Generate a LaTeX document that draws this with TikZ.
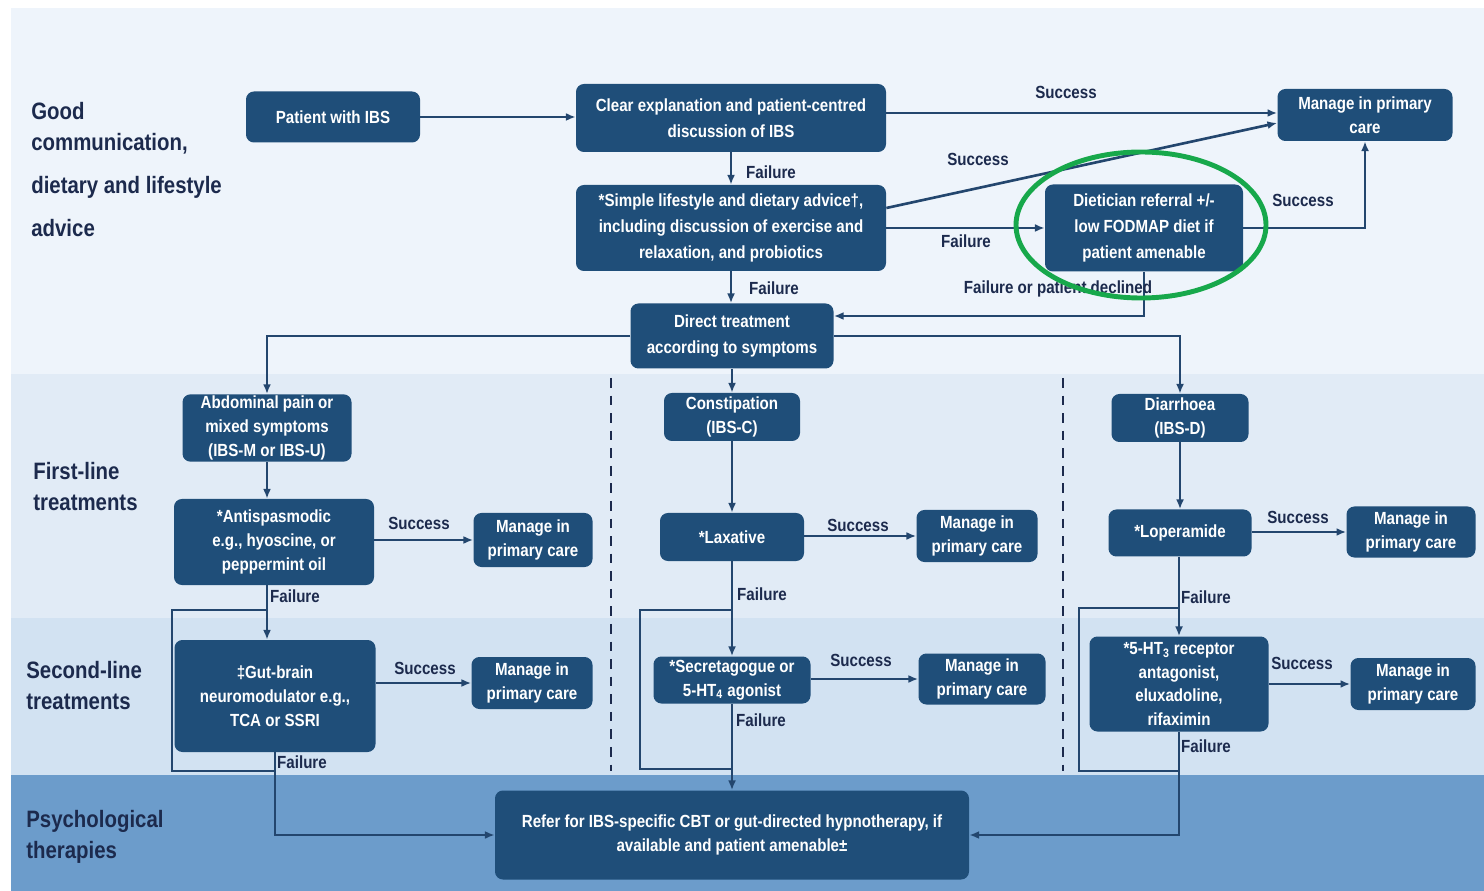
\documentclass[tikz,border=0pt]{standalone}
\usepackage{fontspec}
\setmainfont{Liberation Sans}[FakeStretch=0.86]
\usetikzlibrary{arrows.meta}

\definecolor{bandA}{HTML}{EEF4FB}
\definecolor{bandB}{HTML}{E1EBF6}
\definecolor{bandC}{HTML}{D2E2F2}
\definecolor{bandD}{HTML}{6C9CCB}
\definecolor{boxblue}{HTML}{1F4E79}
\definecolor{linkblue}{HTML}{23466E}
\definecolor{navy}{HTML}{1C2A4D}
\definecolor{ringgreen}{HTML}{17A84B}

\tikzset{
  box/.style={rectangle, rounded corners=4.5pt, fill=boxblue, text=white, align=center,
    inner sep=1pt, font=\bfseries\fontsize{10}{13.5}\selectfont},
  tallbox/.style={box, font=\bfseries\fontsize{10}{14.7}\selectfont},
  boxsize/.style 2 args={minimum width=#1*0.02cm, minimum height=#2*0.02cm},
  wire/.style={draw=linkblue, line width=1.5pt},
  link/.style={wire, -{Latex[length=5.5pt,width=4.5pt]}},
  lbl/.style={text=navy, inner sep=0pt, font=\bfseries\fontsize{10}{12}\selectfont},
  side/.style={text=navy, inner sep=0pt, align=left, anchor=north west,
    font=\bfseries\fontsize{13.5}{17.6}\selectfont},
  sep/.style={draw=navy, line width=1.6pt, dash pattern=on 5.5pt off 4.5pt},
}

\begin{document}
\begin{tikzpicture}[x=0.02cm, y=-0.02cm]
  % Frame
  \useasboundingbox (0,0) rectangle (1484,891);
  \fill[white] (0,0) rectangle (1484,891);

  % Bands
  \fill[bandA] (11,8) rectangle (1484,374);
  \fill[bandB] (11,374) rectangle (1484,618);
  \fill[bandC] (11,618) rectangle (1484,775);
  \fill[bandD] (11,775) rectangle (1484,891);

  % Separators
  \draw[sep] (611,378) -- (611,771);
  \draw[sep] (1063,378) -- (1063,771);

  % Side titles
  \node[side] (tgood) at (31,102) {Good\\communication,\\[7pt]dietary and lifestyle\\[7pt]advice};
  \node[side] (tfirst) at (33,462) {First-line\\treatments};
  \node[side] (tsecond) at (26,661) {Second-line\\treatments};
  \node[side] (tpsych) at (26,810) {Psychological\\therapies};

  % Top boxes
  \node[box, boxsize={174}{51}] (patient) at (333,117) {Patient with IBS};
  \node[tallbox, boxsize={310}{68}] (clear) at (731,118) {Clear explanation and patient-centred\\discussion of IBS};
  \node[box, boxsize={175}{52}] (mtop) at (1365,115) {Manage in primary\\care};
  \node[tallbox, boxsize={310}{86}] (simple) at (731,228) {*Simple lifestyle and dietary advice†,\\including discussion of exercise  and\\relaxation, and probiotics};
  \node[tallbox, boxsize={198}{87}] (diet) at (1144,228) {Dietician referral +/-\\low FODMAP diet if\\patient amenable};
  \node[tallbox, boxsize={203}{65}] (direct) at (732,336) {Direct treatment\\according to symptoms};

  % Column boxes
  \node[box, boxsize={169}{66}] (abd) at (267,428) {Abdominal pain or\\mixed symptoms\\(IBS-M or IBS-U)};
  \node[box, boxsize={136}{48}] (con) at (732,417) {Constipation\\(IBS-C)};
  \node[box, boxsize={137}{48}] (diar) at (1180,418) {Diarrhoea\\(IBS-D)};
  \node[box, boxsize={200}{86}] (anti) at (274,542) {*Antispasmodic\\e.g., hyoscine, or\\peppermint oil};
  \node[box, boxsize={119}{54}] (mA1) at (533,540) {Manage in\\primary care};
  \node[box, boxsize={144}{48}] (lax) at (732,537) {*Laxative};
  \node[box, boxsize={121}{52}] (mB1) at (977,536) {Manage in\\primary care};
  \node[box, boxsize={143}{47}] (lop) at (1180,533) {*Loperamide};
  \node[box, boxsize={129}{51}] (mC1) at (1411,532) {Manage in\\primary care};
  \node[box, boxsize={201}{112}] (gut) at (275,696) {‡Gut-brain\\neuromodulator e.g.,\\TCA or SSRI};
  \node[box, boxsize={121}{52}] (mA2) at (532,683) {Manage in\\primary care};
  \node[box, boxsize={157}{47}] (sec) at (732,680) {*Secretagogue or\\5-HT\textsubscript{4} agonist};
  \node[box, boxsize={127}{51}] (mB2) at (982,679) {Manage in\\primary care};
  \node[box, boxsize={179}{95}] (five) at (1179,684) {*5-HT\textsubscript{3} receptor\\antagonist,\\eluxadoline,\\rifaximin};
  \node[box, boxsize={125}{52}] (mC2) at (1413,684) {Manage in\\primary care};
  \node[box, boxsize={474}{89}] (refer) at (732,835) {Refer for IBS-specific CBT or gut-directed hypnotherapy, if\\available and patient amenable±};

  % Loop corners
  \coordinate (a1) at (267,610);
  \coordinate (a2) at (172,610);
  \coordinate (a3) at (172,771);
  \coordinate (a4) at (275,771);
  \coordinate (b1) at (732,610);
  \coordinate (b2) at (640,610);
  \coordinate (b3) at (640,769);
  \coordinate (b4) at (732,769);
  \coordinate (c1) at (1179,608);
  \coordinate (c2) at (1079,608);
  \coordinate (c3) at (1079,771);
  \coordinate (c4) at (1179,771);

  % Top connectors
  \draw[link] (patient.east) -- (patient.east -| clear.west);
  \draw[link] ([yshift=0.1cm]clear.east) -- ([yshift=0.1cm]clear.east -| mtop.west);
  \draw[link] (clear.south) -- (simple.north);
  \draw[link] ([yshift=0.4cm]simple.east) -- ([yshift=-0.16cm]mtop.west);
  \draw[link] (simple.east) -- (diet.west);
  \draw[link] (diet.east) -| (mtop.south);
  \draw[link] (diet.south) |- ([yshift=0.4cm]direct.east);
  \draw[link] (simple.south) -- (simple.south |- direct.north);
  \draw[link] (direct.west) -| (abd.north);
  \draw[link] (direct.east) -| (diar.north);
  \draw[link] (direct.south) -- (con.north);

  % Column A
  \draw[link] (abd.south) -- (abd.south |- anti.north);
  \draw[link] (mA1.west -| anti.east) -- (mA1.west);
  \draw[link] (anti.south -| abd.south) -- (gut.north -| abd.south);
  \draw[link] (mA2.west -| gut.east) -- (mA2.west);
  \draw[wire] (a1) -- (a2) -- (a3) -- (a4);
  \draw[link] (gut.south) |- (refer.west);

  % Column B
  \draw[link] (con.south) -- (lax.north);
  \draw[link] (mB1.west -| lax.east) -- (mB1.west);
  \draw[link] (lax.south) -- (sec.north);
  \draw[link] (mB2.west -| sec.east) -- (mB2.west);
  \draw[wire] (b1) -- (b2) -- (b3) -- (b4);
  \draw[link] (sec.south) -- (refer.north);

  % Column C
  \draw[link] (diar.south) -- (lop.north);
  \draw[link] (mC1.west -| lop.east) -- (mC1.west);
  \draw[link] (lop.south -| five.north) -- (five.north);
  \draw[link] (mC2.west -| five.east) -- (mC2.west);
  \draw[wire] (c1) -- (c2) -- (c3) -- (c4);
  \draw[link] (five.south) |- (refer.east);

  % Labels
  \node[lbl] (s1) at (1066,92) {Success};
  \node[lbl] (f1) at (771,172) {Failure};
  \node[lbl] (s2) at (978,159) {Success};
  \node[lbl] (f2) at (966,241) {Failure};
  \node[lbl] (s3) at (1303,200) {Success};
  \node[lbl] (f3) at (774,288) {Failure};
  \node[lbl] (f4) at (1058,289) {Failure or patient declined};
  \node[lbl] (s4) at (419,523) {Success};
  \node[lbl] (f5) at (295,596) {Failure};
  \node[lbl] (s5) at (425,668) {Success};
  \node[lbl] (f6) at (302,762) {Failure};
  \node[lbl] (s6) at (858,525) {Success};
  \node[lbl] (f7) at (762,594) {Failure};
  \node[lbl] (s7) at (861,660) {Success};
  \node[lbl] (f8) at (761,720) {Failure};
  \node[lbl] (s8) at (1298,517) {Success};
  \node[lbl] (f9) at (1206,597) {Failure};
  \node[lbl] (s9) at (1302,663) {Success};
  \node[lbl] (f10) at (1206,746) {Failure};

  % Highlight
  \draw[ringgreen, line width=2.8pt] (1141,225) ellipse [x radius=125, y radius=73];
\end{tikzpicture}
\end{document}
